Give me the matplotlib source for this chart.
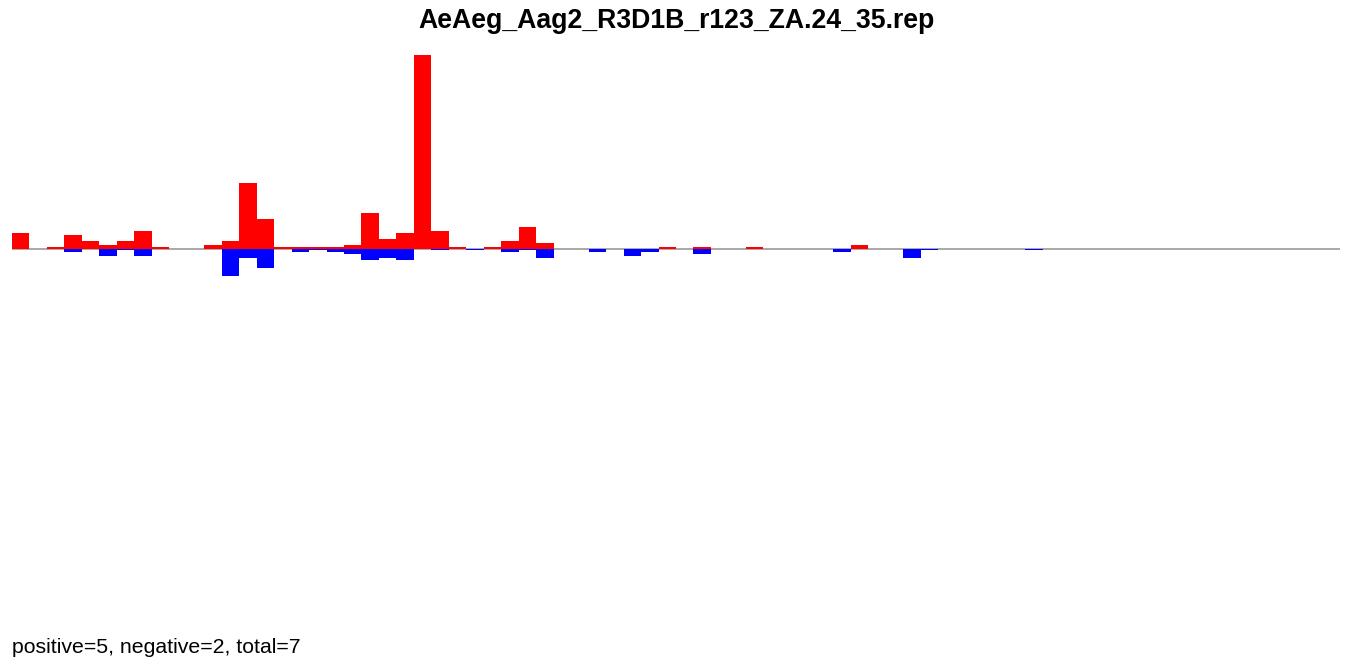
import matplotlib
matplotlib.use("Agg")
import matplotlib.pyplot as plt
import numpy as np

title = "AeAeg_Aag2_R3D1B_r123_ZA.24_35.rep"
summary = "positive=5, negative=2, total=7"

n_bins = 76
# bin index -> count
pos_bins = [0, 2, 3, 4, 5, 6, 7, 8, 11, 12, 13, 14, 15, 16, 17, 18, 19, 20, 21, 22,
            23, 24, 25, 27, 28, 29, 30, 37, 39, 42, 48]
pos_vals = [8, 1, 7, 4, 2, 4, 9, 1, 2, 4, 33, 15, 1, 1, 1, 1, 2, 18, 5, 8,
            97, 9, 1, 1, 4, 11, 3, 1, 1, 1, 2]
neg_bins = [3, 5, 6, 7, 12, 13, 14, 16, 17, 18, 19, 20, 21, 22, 24, 26, 28, 29, 30,
            33, 35, 36, 39, 47, 51, 52, 58]
neg_vals = [2, 4, 1, 4, 14, 5, 10, 2, 1, 2, 3, 6, 5, 6, 1, 1, 2, 1, 5,
            2, 4, 2, 3, 2, 5, 1, 1]

W, H = 1352, 664
fig = plt.figure(figsize=(W / 100, H / 100), dpi=100)
plt.rcParams['font.family'] = ['Liberation Sans', 'DejaVu Sans']

left, right = 12 / W, 1340 / W
top, bottom = 55 / H, 442 / H
ax = fig.add_axes([left, 1 - bottom, right - left, bottom - top])

ymax = max(pos_vals)
ax.axhline(0, color="#999999", linewidth=1.2, zorder=1)
ax.bar(pos_bins, pos_vals, width=1.0, align="edge", color="#ff0000",
       linewidth=0, antialiased=False, zorder=2)
ax.bar(neg_bins, [-v for v in neg_vals], width=1.0, align="edge", color="#0000ff",
       linewidth=0, antialiased=False, zorder=2)

ax.set_xlim(0, n_bins)
ax.set_ylim(-ymax, ymax)
ax.axis("off")

fig.text(0.5, 1 - 21 / H, title, ha="center", va="center", fontsize=19.2, fontweight="bold")
fig.text(12 / W, 1 - 653 / H, summary, ha="left", va="baseline", fontsize=15.3)

fig.savefig("out.png", dpi=100)
